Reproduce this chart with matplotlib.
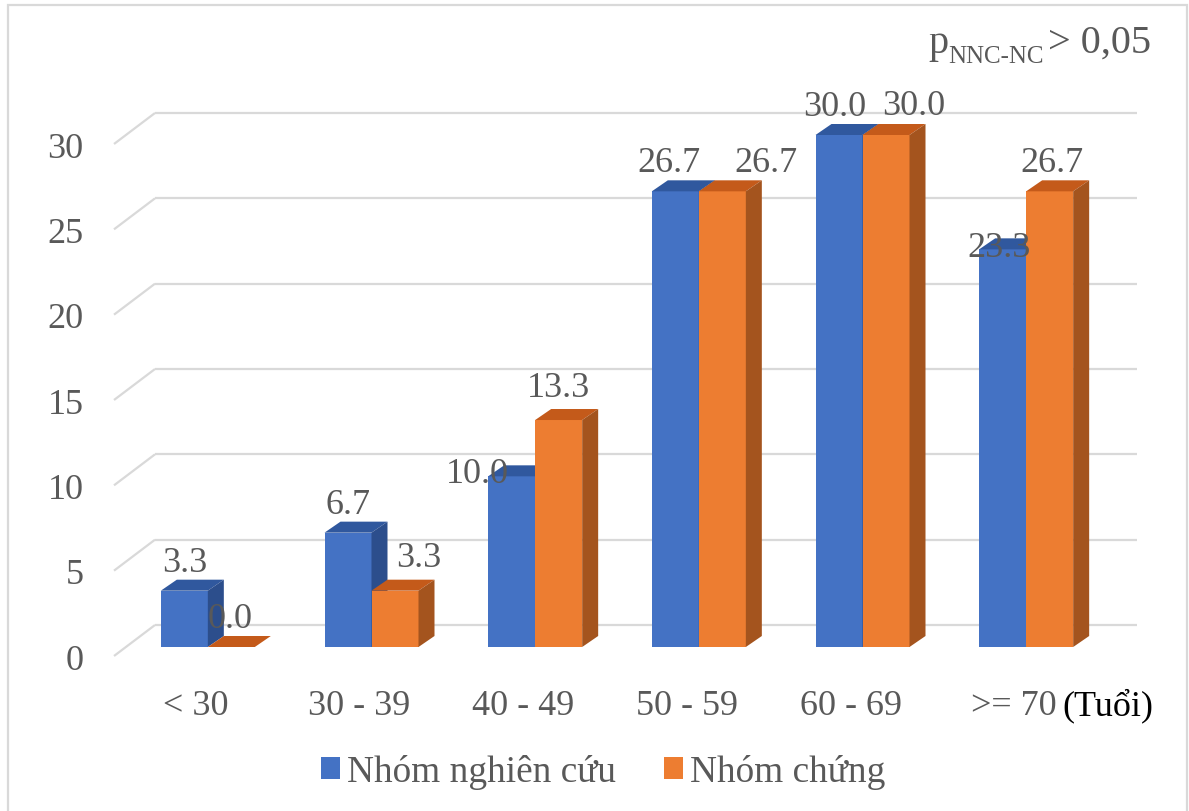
import matplotlib
matplotlib.use("Agg")
import matplotlib.pyplot as plt
from matplotlib.patches import Polygon, Rectangle, Patch

# ---- data -------------------------------------------------------------
age_groups = ["< 30", "30 - 39", "40 - 49", "50 - 59", "60 - 69", ">= 70"]
nhom_nghien_cuu = [3.3, 6.7, 10.0, 26.7, 30.0, 23.3]
nhom_chung = [0.0, 3.3, 13.3, 26.7, 30.0, 26.7]
y_ticks = [0, 5, 10, 15, 20, 25, 30]
series_names = ["Nhóm nghiên cứu", "Nhóm chứng"]

# ---- style ------------------------------------------------------------
plt.rcParams["font.family"] = ["Liberation Serif", "DejaVu Serif"]
TEXT = "#595959"
GRID = "#d9d9d9"
BLUE = ("#4472C4", "#30589E", "#2C4E8C")     # front, top, side
ORANGE = ("#ED7D31", "#C45A1A", "#A4541E")
FS = 26

# hand-placed value label shifts (pixels, x right / y up) so neighbours don't collide
blue_label_shift = [(0, 0), (0, 0), (-34, -26), (-6, 0), (-4, 0), (-4, -27)]
orange_label_shift = [(-1, 0), (24, 5), (0, 4), (44, 0), (28, 1), (2, 0)]

W, H = 1189, 812
fig = plt.figure(figsize=(W / 100, H / 100), dpi=100)

# front plane of the 3-D box, in figure pixels
ax_l, ax_r, ax_b, ax_t = 114, 1096, 657, 145
ax = fig.add_axes([ax_l / W, 1 - ax_b / H, (ax_r - ax_l) / W, (ax_b - ax_t) / H])
n = len(age_groups)
ax.set_xlim(-0.5, n - 0.5)
ax.set_ylim(0, 30)
ax.patch.set_visible(False)
for s in ax.spines.values():
    s.set_visible(False)

# pixel -> data conversion factors
sx = n / (ax_r - ax_l)
sy = 30 / (ax_b - ax_t)

# oblique depth offsets (pixels converted to data units)
wall_dx, wall_dy = 41 * sx, 31 * sy        # full depth of the floor
front_dx, front_dy = 12 * sx, 9 * sy       # bar front face position
depth_dx, depth_dy = 16 * sx, 11 * sy      # bar thickness
bar_w = 47 * sx
PT = 0.72                                   # points per pixel at 100 dpi

# gridlines on the side wall and back wall
for v in y_ticks:
    ax.plot([-0.5, -0.5 + wall_dx], [v, v + wall_dy], color=GRID, lw=1.6,
            clip_on=False, zorder=1, solid_capstyle="butt")
    ax.plot([-0.5 + wall_dx, n - 0.5 + wall_dx], [v + wall_dy] * 2, color=GRID,
            lw=1.6, clip_on=False, zorder=1, solid_capstyle="butt")


def draw_series(values, offset, colors, shifts, z):
    front, top, side = colors
    xs = [i + offset * bar_w + front_dx for i in range(n)]
    ax.bar(xs, values, width=bar_w, bottom=front_dy, align="edge",
           color=front, linewidth=0, zorder=z, clip_on=False)
    for x0, h, (dx, dy) in zip(xs, values, shifts):
        x1 = x0 + bar_w
        y0 = front_dy
        y1 = front_dy + h
        ax.add_patch(Polygon([(x0, y1), (x1, y1), (x1 + depth_dx, y1 + depth_dy),
                              (x0 + depth_dx, y1 + depth_dy)],
                             closed=True, facecolor=top, linewidth=0,
                             zorder=z, clip_on=False))
        if h > 0:
            ax.add_patch(Polygon([(x1, y0), (x1 + depth_dx, y0 + depth_dy),
                                  (x1 + depth_dx, y1 + depth_dy), (x1, y1)],
                                 closed=True, facecolor=side, linewidth=0,
                                 zorder=z, clip_on=False))
        ax.annotate(f"{h:.1f}", xy=(x0 + bar_w / 2, y1),
                    xytext=(dx * PT, (20 + dy) * PT),
                    textcoords="offset points", ha="center", va="baseline",
                    fontsize=FS, color=TEXT, zorder=10, annotation_clip=False)


draw_series(nhom_nghien_cuu, -1, BLUE, blue_label_shift, 2)
draw_series(nhom_chung, 0, ORANGE, orange_label_shift, 3)

# axes labels
ax.set_yticks(y_ticks)
ax.set_yticklabels([str(v) for v in y_ticks])
ax.set_xticks(range(n))
ax.set_xticklabels(age_groups)
ax.tick_params(axis="y", length=0, pad=22, labelsize=FS, labelcolor=TEXT)
ax.tick_params(axis="x", length=0, pad=24, labelsize=FS, labelcolor=TEXT)

fig.text(1062 / W, 1 - 715 / H, "(Tuổi)", ha="left", va="baseline",
         fontsize=FS, color="black")

# legend
handles = [Patch(facecolor=BLUE[0]), Patch(facecolor=ORANGE[0])]
fig.legend(handles, series_names, loc="center", bbox_to_anchor=(603 / W, 1 - 773 / H),
           ncol=2, frameon=False, fontsize=26.8, handlelength=0.52, handleheight=0.52,
           handletextpad=0.18, columnspacing=1.3, labelcolor=TEXT)

# p-value note: p with subscript
renderer = fig.canvas.get_renderer()
t_main = fig.text(1151 / W, 1 - 53 / H, "> 0,05", ha="right", va="baseline",
                  fontsize=29, color=TEXT)
bb = t_main.get_window_extent(renderer)
t_sub = fig.text((bb.x0 - 4) / W, 1 - 63 / H, "NNC-NC", ha="right", va="baseline",
                 fontsize=18, color=TEXT)
bb2 = t_sub.get_window_extent(renderer)
fig.text(bb2.x0 / W, 1 - 53 / H, "p", ha="right", va="baseline",
         fontsize=29, color=TEXT)

# outer frame
fig.patches.append(Rectangle((8 / W, -0.01), (1187 - 8) / W, 1.01 - 6 / H,
                             transform=fig.transFigure, fill=False,
                             edgecolor=GRID, linewidth=1.6))

fig.savefig("out.png", dpi=100)
